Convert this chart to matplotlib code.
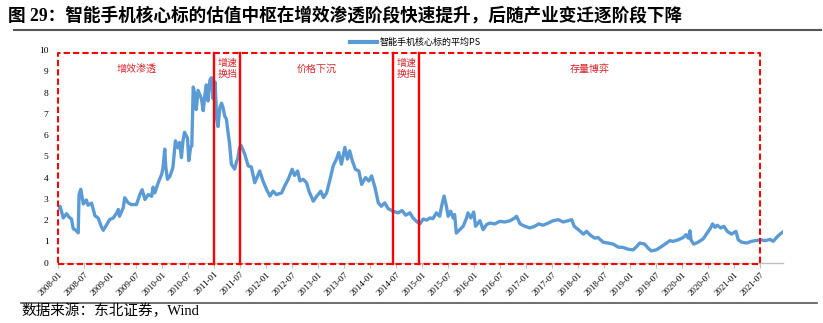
import matplotlib
matplotlib.use("Agg")
import matplotlib.pyplot as plt
import matplotlib.dates as mdates
import pandas as pd
from matplotlib.lines import Line2D

plt.rcParams['font.family'] = ['Noto Sans CJK SC', 'DejaVu Sans']

dates = ["2008-01-02","2008-01-14","2008-02-05","2008-02-28","2008-03-15","2008-04-03","2008-04-15","2008-05-07","2008-05-20","2008-05-26",
"2008-06-07","2008-06-25","2008-07-16","2008-07-28","2008-08-22","2008-09-15","2008-10-07","2008-11-01","2008-11-12","2008-12-06",
"2008-12-28","2009-01-21","2009-02-15","2009-02-26","2009-03-06","2009-04-01","2009-04-12","2009-05-06","2009-05-28","2009-07-03",
"2009-07-27","2009-08-12","2009-09-01","2009-09-24","2009-10-18","2009-10-28","2009-11-09","2009-12-03","2009-12-27","2010-01-06",
"2010-01-18","2010-01-25","2010-02-06","2010-02-24","2010-03-16","2010-04-03","2010-04-21","2010-05-03","2010-05-15","2010-05-26",
"2010-06-06","2010-06-27","2010-07-06","2010-07-18","2010-07-27","2010-08-06","2010-08-18","2010-08-27","2010-09-09","2010-10-03",
"2010-10-15","2010-10-27","2010-11-06","2010-11-18","2010-12-01","2010-12-12","2010-12-24","2011-01-06","2011-01-18","2011-01-27",
"2011-02-09","2011-02-21","2011-03-03","2011-03-15","2011-03-27","2011-04-06","2011-04-18","2011-05-01","2011-05-24","2011-06-06",
"2011-06-15","2011-06-27","2011-07-09","2011-08-03","2011-08-27","2011-09-18","2011-10-12","2011-11-16","2011-12-09","2012-01-03",
"2012-01-27","2012-02-18","2012-03-12","2012-04-18","2012-05-09","2012-06-03","2012-07-01","2012-07-18","2012-08-08","2012-08-24",
"2012-09-16","2012-10-10","2012-10-27","2012-11-26","2012-12-18","2013-01-18","2013-02-06","2013-02-28","2013-03-21","2013-04-15",
"2013-05-08","2013-05-24","2013-06-12","2013-07-06","2013-07-24","2013-08-09","2013-08-27","2013-09-18","2013-10-12","2013-11-01",
"2013-11-28","2013-12-22","2014-01-10","2014-02-03","2014-02-26","2014-03-19","2014-04-12","2014-05-06","2014-06-09","2014-07-15",
"2014-08-12","2014-09-06","2014-10-06","2014-10-28","2014-11-21","2014-12-15","2015-01-07","2015-02-01","2015-02-24","2015-03-17",
"2015-04-10","2015-05-03","2015-05-19","2015-06-03","2015-06-19","2015-07-01","2015-07-19","2015-08-06","2015-08-16","2015-08-28",
"2015-09-21","2015-10-15","2015-11-08","2015-11-18","2015-12-08","2015-12-28","2016-01-10","2016-02-10","2016-03-03","2016-03-27",
"2016-04-19","2016-05-24","2016-06-28","2016-08-03","2016-09-08","2016-10-12","2016-10-24","2016-11-18","2016-12-21","2017-01-26",
"2017-03-01","2017-03-28","2017-04-28","2017-06-03","2017-07-08","2017-08-12","2017-09-17","2017-10-21","2017-11-15","2017-12-03",
"2018-01-01","2018-02-06","2018-02-28","2018-03-28","2018-04-27","2018-05-19","2018-06-24","2018-07-28","2018-09-03","2018-10-07",
"2018-11-12","2018-12-17","2019-01-21","2019-02-15","2019-03-08","2019-04-12","2019-05-06","2019-05-29","2019-07-03","2019-08-09",
"2019-09-12","2019-10-06","2019-10-28","2019-12-03","2020-01-08","2020-01-27","2020-02-12","2020-02-24","2020-03-02","2020-03-21",
"2020-04-21","2020-05-27","2020-06-24","2020-07-18","2020-08-01","2020-08-18","2020-09-03","2020-09-27","2020-10-19","2020-11-12",
"2020-12-12","2021-01-12","2021-01-28","2021-02-22","2021-03-27","2021-05-01","2021-06-04","2021-07-10","2021-08-03","2021-09-08",
"2021-10-01","2021-10-24","2021-11-18","2021-12-08"]

avg_ps = [2.55,2.65,2.10,2.30,2.15,2.05,1.60,1.50,1.40,3.20,
3.45,2.76,2.95,2.70,2.80,2.20,2.10,1.65,1.52,1.79,
2.03,2.10,2.34,2.50,2.18,2.57,3.05,2.81,2.73,2.73,
3.20,3.43,2.97,3.20,3.12,3.55,3.28,3.76,4.15,4.47,
5.34,4.50,3.92,4.07,4.47,5.73,5.40,5.65,4.94,5.73,
6.13,5.85,4.80,5.40,5.50,8.26,7.90,7.20,8.10,7.70,
7.15,7.90,8.36,7.60,8.58,8.70,7.70,8.50,6.76,6.40,
7.30,7.50,7.30,6.90,6.75,6.20,5.60,4.63,4.40,4.75,
4.90,5.42,5.50,5.10,4.55,4.50,3.76,4.31,3.84,3.44,
3.13,3.36,3.20,3.28,3.60,3.92,4.39,4.10,4.31,3.84,
3.92,3.76,3.36,2.89,3.10,3.36,3.06,3.28,3.84,4.55,
4.87,5.18,4.63,5.42,4.87,5.26,4.80,4.39,4.31,3.68,
4.00,3.84,4.08,3.52,2.81,2.65,2.81,2.54,2.42,2.34,
2.45,2.23,2.34,2.10,1.94,1.82,2.05,2.00,2.10,2.07,
2.34,2.18,2.73,3.13,2.66,2.18,2.42,2.10,2.26,1.39,
1.55,1.71,2.10,2.34,2.10,2.38,1.71,1.97,1.55,1.79,
1.86,1.82,1.94,1.91,1.97,2.10,2.18,1.82,1.71,1.63,
1.71,1.82,1.76,1.86,1.97,2.02,1.91,1.97,2.02,1.71,
1.55,1.34,1.47,1.28,1.15,1.18,0.96,0.92,0.87,0.73,
0.71,0.63,0.60,0.76,0.92,0.87,0.68,0.55,0.60,0.76,
0.92,1.03,1.00,1.07,1.18,1.31,1.15,1.50,1.07,0.87,
0.96,1.12,1.39,1.63,1.82,1.66,1.76,1.63,1.71,1.47,
1.34,1.47,1.07,0.96,0.92,1.00,1.04,1.07,1.03,1.09,
1.00,1.18,1.34,1.44]

series_name = "智能手机核心标的平均PS"
phase_edges = ["2008-01-01", "2011-01-01", "2011-07-01", "2014-06-10", "2014-12-10", "2021-07-01"]
phase_labels = ["增效渗透", "增速\n换挡", "价格下沉", "增速\n换挡", "存量博弈"]
tick_labels = [f"{y}-{m:02d}" for y in range(2008, 2022) for m in (1, 7)]
y_ticks = list(range(0, 11))

title = "图 29：智能手机核心标的估值中枢在增效渗透阶段快速提升，后随产业变迁逐阶段下降"
source = "数据来源：东北证券，Wind"

x = pd.to_datetime(dates)
edges = pd.to_datetime(phase_edges)

fig = plt.figure(figsize=(8.23, 3.23), dpi=100)
ax = fig.add_axes([0.0708, 0.187, 0.952 - 0.0708, 0.845 - 0.187])

blue = "#5B9BD5"
red = "#FF0000"
ax.plot(x, avg_ps, color=blue, lw=2.4, solid_joinstyle='round', zorder=3)

box_bottom, box_top = -0.08, 9.84
ax.plot([edges[0], edges[-1], edges[-1], edges[0], edges[0]],
        [box_bottom, box_bottom, box_top, box_top, box_bottom],
        color=red, lw=1.5, ls=(0, (3, 1.5)), clip_on=False, zorder=4)
for e in edges[1:-1]:
    ax.plot([e, e], [box_bottom, box_top], color=red, lw=1.7, clip_on=False, zorder=4)

for i, lab in enumerate(phase_labels):
    mid = edges[i] + (edges[i + 1] - edges[i]) / 2
    ax.text(mid, 9.12, lab, color="#D9262B", fontsize=7.2, ha='center', va='center',
            linespacing=1.15, zorder=5)

ax.set_ylim(0, 10)
ax.set_xlim(pd.Timestamp("2008-01-01"), pd.Timestamp("2021-12-12"))
ax.set_yticks(y_ticks)
ax.set_yticklabels([str(v) for v in y_ticks], fontsize=6.8, family=['Liberation Serif'])
ax.tick_params(axis='y', length=0, pad=7)

tick_pos = pd.to_datetime([t + "-01" for t in tick_labels])
ax.set_xticks(tick_pos)
ax.set_xticklabels(tick_labels, fontsize=6.5, family=['Liberation Serif'],
                   rotation=45, ha='right', va='top', rotation_mode='anchor')
ax.tick_params(axis='x', length=3.5, width=0.8, color="#BFBFBF", pad=2)

for s in ['top', 'right', 'left']:
    ax.spines[s].set_visible(False)
ax.spines['bottom'].set_color("#BFBFBF")
ax.spines['bottom'].set_linewidth(1.0)

handle = Line2D([], [], color=blue, lw=3)
fig.legend([handle], [series_name], loc='center', bbox_to_anchor=(0.505, 0.868),
           frameon=False, fontsize=6.5, handlelength=3.0, handletextpad=0.3)

fig.text(0.010, 0.952, title, fontsize=12.7, fontweight='bold', ha='left', va='center',
         family=['Liberation Serif', 'Noto Sans CJK SC'])
fig.add_artist(Line2D([0.017, 0.997], [0.907, 0.907], color="#555555", lw=1.5))
fig.add_artist(Line2D([0.025, 0.993], [0.062, 0.062], color="#555555", lw=1.2))
fig.text(0.026, 0.014, source, fontsize=10.5, ha='left', va='bottom',
         family=['Liberation Serif', 'Noto Sans CJK SC'])

fig.savefig("out.png", dpi=100)
